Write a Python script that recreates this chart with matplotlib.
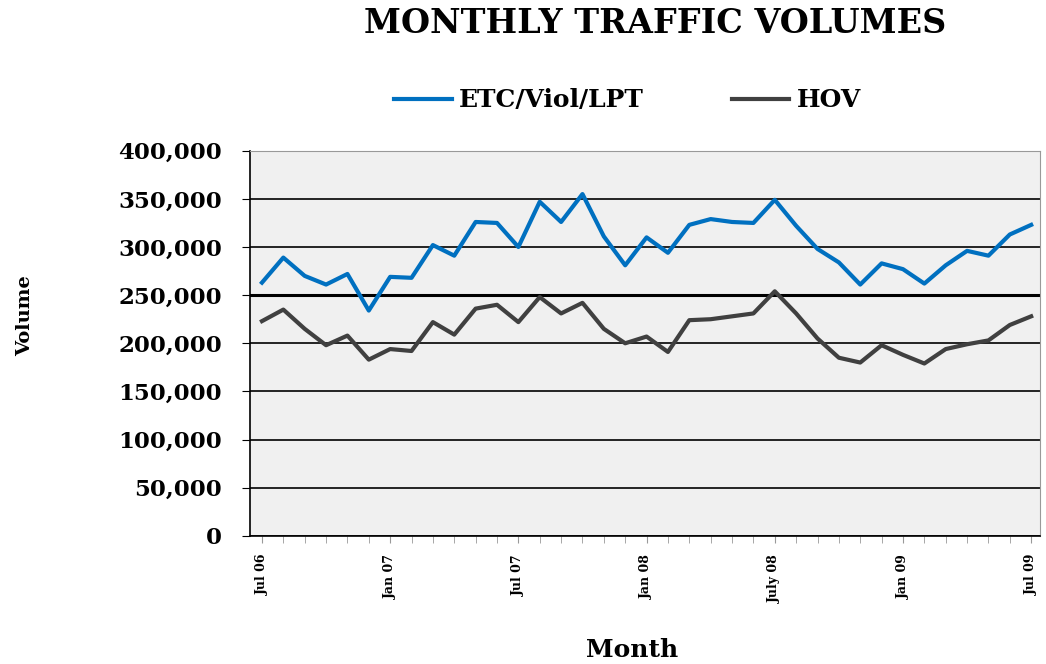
import numpy as np
import matplotlib
matplotlib.use('Agg')
import matplotlib.pyplot as plt
from matplotlib.ticker import FuncFormatter

# months Jul 06 .. Jul 09
months = ['Jul 06', 'Aug 06', 'Sep 06', 'Oct 06', 'Nov 06', 'Dec 06',
          'Jan 07', 'Feb 07', 'Mar 07', 'Apr 07', 'May 07', 'Jun 07',
          'Jul 07', 'Aug 07', 'Sep 07', 'Oct 07', 'Nov 07', 'Dec 07',
          'Jan 08', 'Feb 08', 'Mar 08', 'Apr 08', 'May 08', 'Jun 08',
          'July 08', 'Aug 08', 'Sep 08', 'Oct 08', 'Nov 08', 'Dec 08',
          'Jan 09', 'Feb 09', 'Mar 09', 'Apr 09', 'May 09', 'Jun 09', 'Jul 09']

etc = [263000, 289000, 270000, 261000, 272000, 234000,
       269000, 268000, 302000, 291000, 326000, 325000,
       300000, 347000, 326000, 355000, 311000, 281000,
       310000, 294000, 323000, 329000, 326000, 325000,
       349000, 322000, 298000, 284000, 261000, 283000,
       277000, 262000, 281000, 296000, 291000, 313000, 323000]

hov = [223000, 235000, 215000, 198000, 208000, 183000,
       194000, 192000, 222000, 209000, 236000, 240000,
       222000, 248000, 231000, 242000, 215000, 200000,
       207000, 191000, 224000, 225000, 228000, 231000,
       254000, 231000, 205000, 185000, 180000, 198000,
       188000, 179000, 194000, 199000, 203000, 219000, 228000]

tick_labels = ['Jul 06', 'Jan 07', 'Jul 07', 'Jan 08', 'July 08', 'Jan 09', 'Jul 09']

plt.rcParams['font.family'] = 'DejaVu Serif'
plt.rcParams['font.weight'] = 'bold'

fig = plt.figure(figsize=(10.46, 6.64), dpi=100)
ax = fig.add_axes([0.239, 0.193, 0.755, 0.580])
ax.set_facecolor('#f0f0f0')

x = np.arange(len(months))
ax.plot(x, etc, color='#0070c0', linewidth=3, label='ETC/Viol/LPT', zorder=3)
ax.plot(x, hov, color='#404040', linewidth=3, label='HOV', zorder=3)

ax.set_ylim(0, 400000)
ax.set_yticks(np.arange(0, 400001, 50000))
ax.yaxis.set_major_formatter(FuncFormatter(lambda v, p: f'{int(v):,}'))
ax.grid(axis='y', color='black', linewidth=1.2)
ax.get_ygridlines()[5].set_linewidth(2.2)
ax.set_axisbelow(True)

ax.set_xlim(-0.56, 36.4)
ax.set_xticks(x, minor=True)
ax.set_xticks([months.index(t) for t in tick_labels])
ax.set_xticklabels(tick_labels, rotation=90, fontsize=9, fontweight='bold')
ax.tick_params(axis='x', which='both', length=5, color='#999999', pad=8)
ax.tick_params(axis='y', length=6, color='black', labelsize=16.5, pad=14)

for s in ['top', 'right']:
    ax.spines[s].set_color('#999999')
ax.spines['left'].set_color('black')
ax.spines['left'].set_linewidth(1.2)
ax.spines['bottom'].set_color('black')
ax.spines['bottom'].set_linewidth(1.2)

fig.text(0.626, 0.965, 'MONTHLY TRAFFIC VOLUMES', ha='center', va='center',
         fontsize=24, fontweight='bold')
fig.text(0.024, 0.525, 'Volume', rotation=90, ha='center', va='center',
         fontsize=14, fontweight='bold')
fig.text(0.604, 0.021, 'Month', ha='center', va='center',
         fontsize=18, fontweight='bold')

fig.legend(loc='center', bbox_to_anchor=(0.6, 0.849), ncol=2, frameon=False,
           prop={'size': 18, 'weight': 'bold'}, handlelength=2.3,
           columnspacing=3.5, handletextpad=0.3)

plt.savefig('out.png', dpi=100)
plt.close()
